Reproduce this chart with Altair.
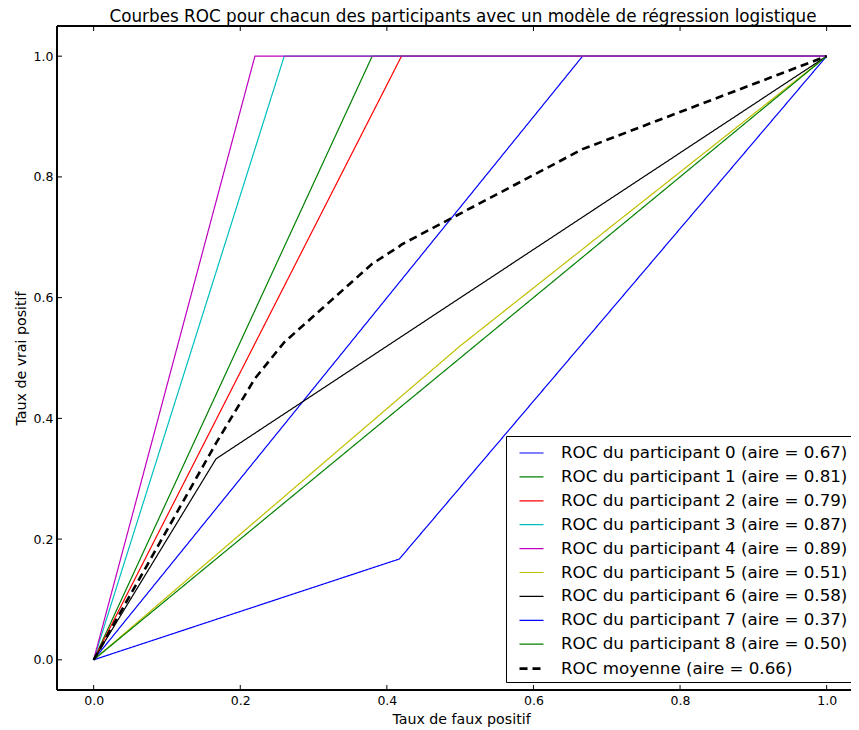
import altair as alt
import pandas as pd

# ---- data ----
labels = [
    "ROC du participant 0 (aire = 0.67)",
    "ROC du participant 1 (aire = 0.81)",
    "ROC du participant 2 (aire = 0.79)",
    "ROC du participant 3 (aire = 0.87)",
    "ROC du participant 4 (aire = 0.89)",
    "ROC du participant 5 (aire = 0.51)",
    "ROC du participant 6 (aire = 0.58)",
    "ROC du participant 7 (aire = 0.37)",
    "ROC du participant 8 (aire = 0.50)",
    "ROC moyenne (aire = 0.66)",
]
colors = ["#0000ff", "#008000", "#ff0000", "#00bfbf", "#bf00bf",
          "#bfbf00", "#000000", "#0000ff", "#008000", "#000000"]
widths = [1.2] * 9 + [2.6]
dashes = [[1, 0]] * 9 + [[8, 5]]

fpr_0 = [0.0, 0.667, 1.0]
tpr_0 = [0.0, 1.0, 1.0]
fpr_1 = [0.0, 0.38, 1.0]
tpr_1 = [0.0, 1.0, 1.0]
fpr_2 = [0.0, 0.42, 1.0]
tpr_2 = [0.0, 1.0, 1.0]
fpr_3 = [0.0, 0.26, 1.0]
tpr_3 = [0.0, 1.0, 1.0]
fpr_4 = [0.0, 0.22, 1.0]
tpr_4 = [0.0, 1.0, 1.0]
fpr_5 = [0.0, 0.5, 1.0]
tpr_5 = [0.0, 0.52, 1.0]
fpr_6 = [0.0, 0.167, 1.0]
tpr_6 = [0.0, 0.333, 1.0]
fpr_7 = [0.0, 0.417, 1.0]
tpr_7 = [0.0, 0.167, 1.0]
fpr_8 = [0.0, 1.0]
tpr_8 = [0.0, 1.0]
fpr_mean = [0.0, 0.167, 0.22, 0.26, 0.38, 0.417, 0.42, 0.667, 1.0]
tpr_mean = [0.0, 0.359, 0.466, 0.526, 0.656, 0.685, 0.688, 0.846, 1.0]

tick_values = [0.0, 0.2, 0.4, 0.6, 0.8, 1.0]

series = [
    (fpr_0, tpr_0), (fpr_1, tpr_1), (fpr_2, tpr_2), (fpr_3, tpr_3),
    (fpr_4, tpr_4), (fpr_5, tpr_5), (fpr_6, tpr_6), (fpr_7, tpr_7),
    (fpr_8, tpr_8), (fpr_mean, tpr_mean),
]

rows = []
for k, (fx, ty) in enumerate(series):
    for i, (a, b) in enumerate(zip(fx, ty)):
        rows.append({"label": labels[k], "fpr": a, "tpr": b, "idx": i, "k": k})
df = pd.DataFrame(rows)
ticks_df = pd.DataFrame({"t": tick_values})

W, H = 794, 664
FONT = "DejaVu Sans"

xscale = alt.Scale(domain=[-0.05, -0.05 + W / 733.0], nice=False, zero=False)
yscale = alt.Scale(domain=[-0.05, 1.05], nice=False, zero=False)

axis_common = dict(values=tick_values, format=".1f", ticks=False, domain=False,
                   grid=False, labelFontSize=12.5, titleFontSize=14.2,
                   labelFont=FONT, titleFont=FONT, labelColor="#000",
                   titleColor="#000", titleFontWeight="normal")

lines = alt.Chart(df).mark_line(clip=True).encode(
    x=alt.X("fpr:Q", scale=xscale,
            axis=alt.Axis(title="Taux de faux positif", labelPadding=4,
                          titlePadding=6, titleX=404, **axis_common)),
    y=alt.Y("tpr:Q", scale=yscale,
            axis=alt.Axis(title="Taux de vrai positif", labelPadding=4,
                          titlePadding=5, **axis_common)),
    color=alt.Color("label:N", scale=alt.Scale(domain=labels, range=colors),
                    legend=alt.Legend(title=None)),
    strokeDash=alt.StrokeDash("label:N",
                              scale=alt.Scale(type="ordinal", domain=labels, range=dashes),
                              legend=alt.Legend(title=None)),
    strokeWidth=alt.StrokeWidth("label:N",
                                scale=alt.Scale(type="ordinal", domain=labels, range=widths),
                                legend=alt.Legend(title=None)),
    detail="k:N",
    order=alt.Order("idx:Q"),
)

frame_color = "#000000"
frame_left = alt.Chart(ticks_df).mark_rule(color=frame_color, strokeWidth=1).encode(
    x=alt.value(0), y=alt.value(0), y2=alt.value(H))
frame_top = alt.Chart(ticks_df).mark_rule(color=frame_color, strokeWidth=1).encode(
    y=alt.value(0), x=alt.value(0), x2=alt.value(W))
frame_bottom = alt.Chart(ticks_df).mark_rule(color=frame_color, strokeWidth=1).encode(
    y=alt.value(H), x=alt.value(0), x2=alt.value(W))

tick_bottom = alt.Chart(ticks_df).mark_rule(color=frame_color).encode(
    x=alt.X("t:Q", scale=xscale), y=alt.value(H), y2=alt.value(H - 5))
tick_top = alt.Chart(ticks_df).mark_rule(color=frame_color).encode(
    x=alt.X("t:Q", scale=xscale), y=alt.value(0), y2=alt.value(5))
tick_left = alt.Chart(ticks_df).mark_rule(color=frame_color).encode(
    y=alt.Y("t:Q", scale=yscale), x=alt.value(0), x2=alt.value(5))

chart = alt.layer(
    lines, frame_left, frame_top, frame_bottom, tick_bottom, tick_top, tick_left
).properties(
    width=W, height=H,
    title=alt.Title("Courbes ROC pour chacun des participants avec un modèle de régression logistique",
                    fontSize=16.8, font=FONT, fontWeight="normal", color="#000",
                    anchor="middle", baseline="alphabetic", offset=5, dy=18, dx=9),
    autosize=alt.AutoSizeParams(type="none"),
    padding={"left": 49, "top": 18, "right": 0, "bottom": 37},
).configure_view(
    stroke=None
).configure_legend(
    orient="none", legendX=449, legendY=410,
    padding=4, strokeColor="#000", fillColor="#fff", cornerRadius=0,
    symbolType="stroke", symbolSize=576, symbolOffset=8, labelOffset=16,
    labelFontSize=16.7, labelFont=FONT, labelColor="#000", rowPadding=1.9,
    labelLimit=400,
)

chart.save("out.html", embed_options={"renderer": "svg", "actions": False})
